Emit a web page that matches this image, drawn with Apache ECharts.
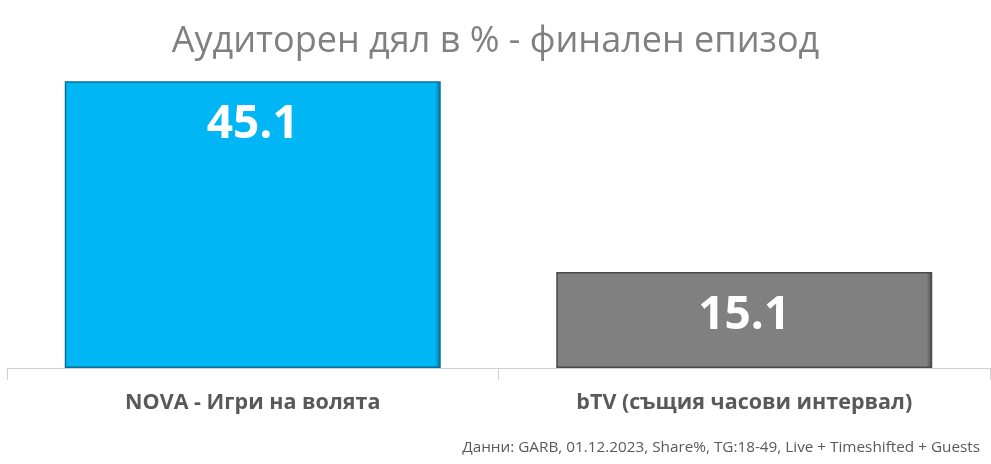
<!DOCTYPE html>
<html>
<head>
<meta charset="utf-8">
<script src="https://cdn.jsdelivr.net/npm/echarts@6/dist/echarts.min.js"></script>
<style>html,body{margin:0;padding:0;background:#fff}#c{width:991px;height:464px}</style>
</head>
<body>
<div id="c"></div>
<script>
const titleText = 'Аудиторен дял в % - финален епизод';
const footnote = 'Данни: GARB, 01.12.2023, Share%, TG:18-49, Live + Timeshifted + Guests';
const categories = ['NOVA - Игри на волята', 'bTV (същия часови интервал)'];
const values = [45.1, 15.1];
const barColors = ['#00B6F5', '#808080'];
const barEdges = ['#0a6f98', '#4a4a4a'];

const chart = echarts.init(document.getElementById('c'));
chart.setOption({
  animation: false,
  title: {
    text: titleText,
    left: 'center',
    top: 19,
    textStyle: { fontFamily: 'Open Sans', fontSize: 36, fontWeight: 'normal', color: '#808080' }
  },
  graphic: [{
    type: 'text',
    right: 11,
    top: 440,
    style: { text: footnote, fontFamily: 'Open Sans', fontSize: 15.3, fill: '#595959' }
  }],
  grid: { left: 7, right: 1, top: 50, bottom: 96, containLabel: false },
  xAxis: {
    type: 'category',
    data: categories,
    axisLine: { lineStyle: { color: '#d0d0d0', width: 1 } },
    axisTick: { show: true, length: 12, lineStyle: { color: '#d0d0d0' } },
    axisLabel: { margin: 24, fontFamily: 'Open Sans', fontSize: 21.5, fontWeight: 'bold', color: '#595959' }
  },
  yAxis: {
    type: 'value', min: 0, max: 50,
    show: false,
    splitLine: { show: false }
  },
  series: [{
    type: 'bar',
    barWidth: '76.5%',
    data: values.map((v, i) => ({
      value: v,
      itemStyle: {
        color: {
          type: 'linear', x: 0, y: 0, x2: 1, y2: 0,
          colorStops: [
            { offset: 0, color: barColors[i] },
            { offset: 0.985, color: barColors[i] },
            { offset: 1, color: barEdges[i] }
          ]
        },
        borderColor: barEdges[i],
        borderWidth: 1.5
      }
    })),
    label: {
      show: true,
      position: 'insideTop',
      distance: 21,
      fontFamily: 'Open Sans',
      fontSize: 46,
      fontWeight: 'bold',
      color: '#ffffff',
      formatter: p => p.value.toFixed(1)
    }
  }]
});
</script>
</body>
</html>
